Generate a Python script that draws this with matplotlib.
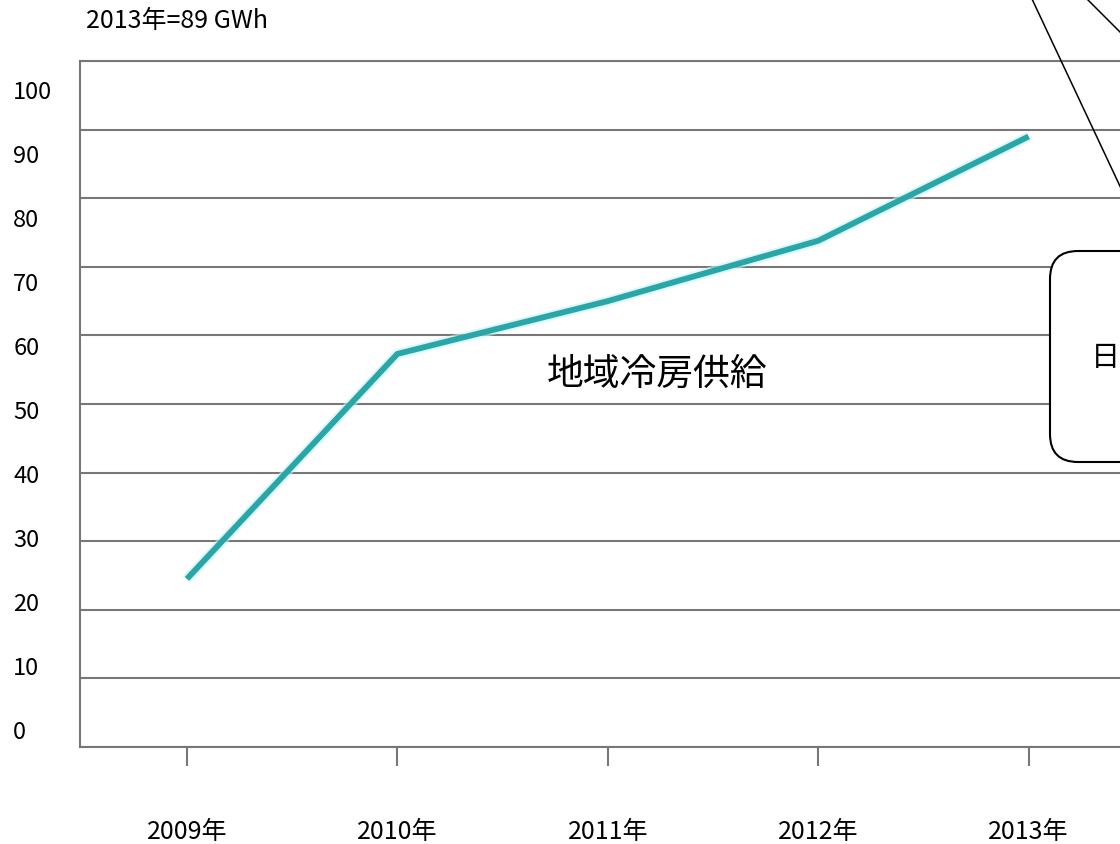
import matplotlib
matplotlib.use("Agg")
import matplotlib.pyplot as plt
from matplotlib.patches import FancyBboxPatch
import matplotlib.patheffects as pe


# =========================
# 1. Data
# =========================

years = ["2009年", "2010年", "2011年", "2012年", "2013年"]
supply = [24.5, 57.3, 65.0, 73.8, 89.0]
y_ticks = [0, 10, 20, 30, 40, 50, 60, 70, 80, 90, 100]

header_text = "2013年=89 GWh"
series_label = "地域冷房供給"
callout_text = "日"


# =========================
# 2. Plot
# =========================

def plot_supply():
    plt.rcParams["font.family"] = ["Noto Sans CJK JP", "DejaVu Sans"]

    grey = "#777777"
    teal = "#28a6a8"

    fig = plt.figure(figsize=(11.2, 8.45), dpi=100)
    ax = fig.add_axes([0.0714, 0.1148, 0.941, 0.8118])

    x = range(len(years))
    ax.plot(
        x, supply,
        color=teal, linewidth=4.2, solid_capstyle="butt",
        path_effects=[pe.Stroke(linewidth=7, foreground="#c4f2f2", alpha=0.6), pe.Normal()],
        zorder=3,
    )

    ax.set_xlim(-0.508, 4.5)
    ax.set_ylim(0, 100)

    ax.set_yticks(y_ticks)
    ax.tick_params(axis="y", length=0, labelleft=False)
    ax.grid(axis="y", color=grey, linewidth=1.5)

    ax.set_xticks(list(x))
    ax.set_xticklabels(years, fontsize=18)
    ax.tick_params(axis="x", direction="out", length=14, width=1.5, color=grey, pad=37)

    for side in ["left", "top", "bottom"]:
        ax.spines[side].set_color(grey)
        ax.spines[side].set_linewidth(1.5)
    ax.spines["right"].set_visible(False)

    # y labels sit a little below their grid lines
    sec = ax.secondary_yaxis(
        "left",
        functions=(lambda v: (v - 2.62) / 0.933, lambda s: 2.62 + 0.933 * s),
    )
    sec.set_yticks(y_ticks)
    sec.tick_params(length=0, pad=48, labelsize=17)
    plt.setp(sec.get_yticklabels(), ha="left")
    sec.spines["left"].set_visible(False)

    ax.text(2.233, 54.5, series_label, fontsize=26.5, ha="center", va="center")

    fig.text(86 / 1120, 1 - 21 / 845, header_text, fontsize=18, ha="left", va="center")

    # callout on the right edge (pixel overlay)
    over = fig.add_axes([0, 0, 1, 1], facecolor="none")
    over.set_xlim(0, 1120)
    over.set_ylim(845, 0)
    over.axis("off")

    box = FancyBboxPatch(
        (1050, 252), 150, 211,
        boxstyle="round,pad=0,rounding_size=28",
        facecolor="white", edgecolor="black", linewidth=1.5,
    )
    over.add_patch(box)
    over.plot([1032, 1150], [0, 251], color="black", linewidth=1.1)
    over.plot([1087, 1160], [0, 73], color="black", linewidth=1.1)
    over.text(1091, 358, callout_text, fontsize=21, ha="left", va="center")

    fig.savefig("out.png", dpi=100)


if __name__ == "__main__":
    plot_supply()
